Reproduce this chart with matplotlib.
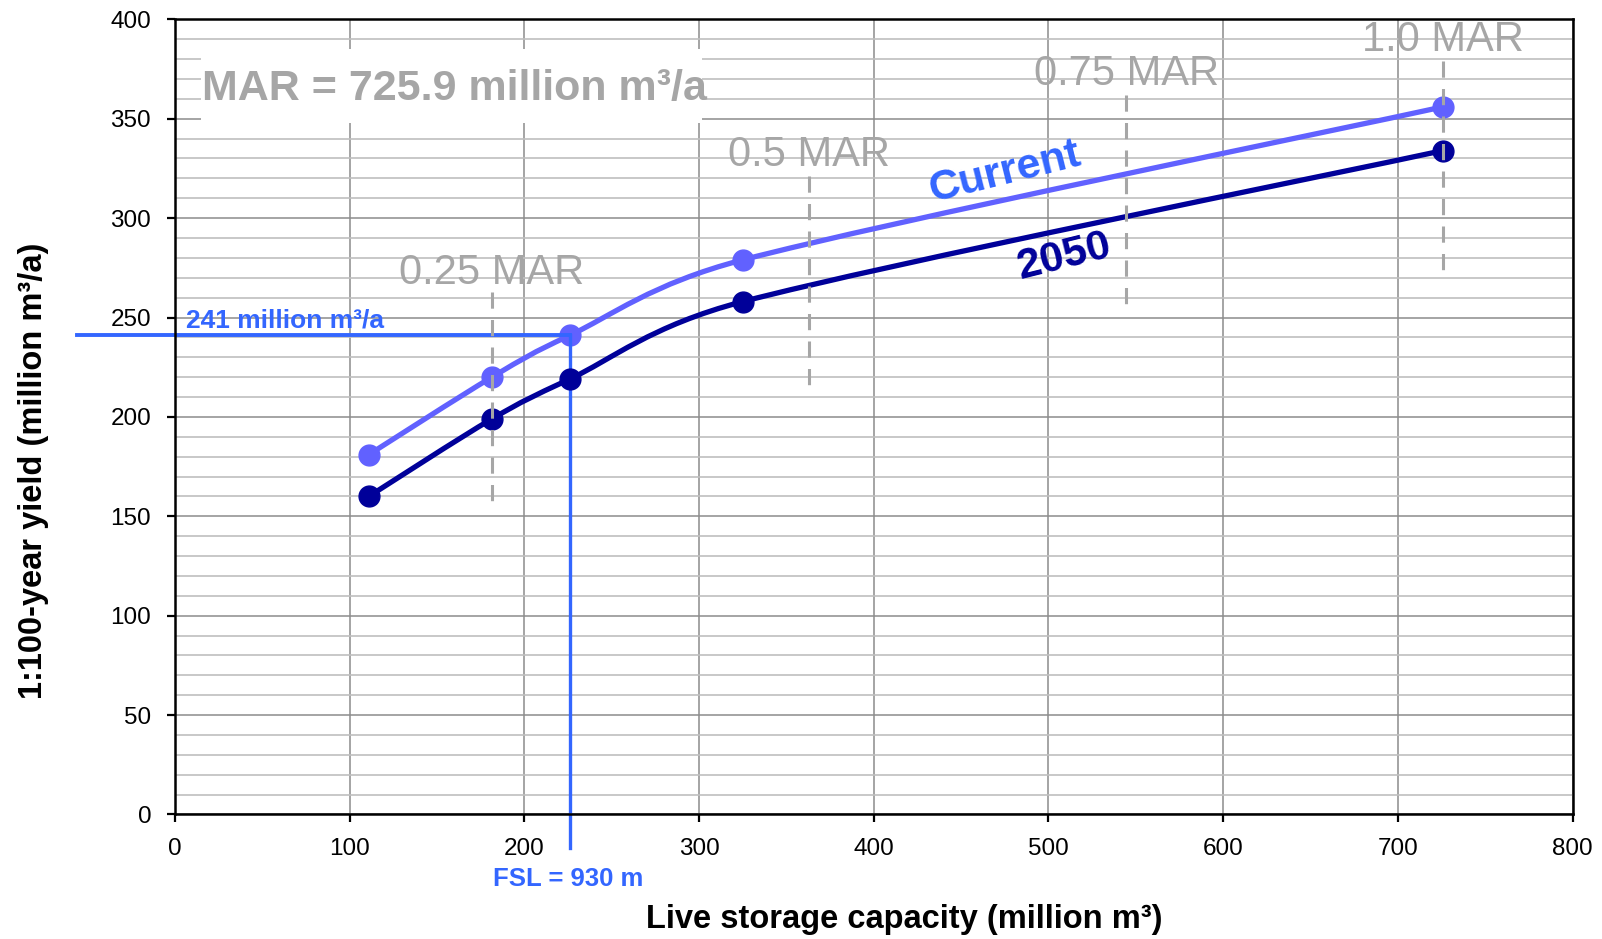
import numpy as np
import matplotlib.pyplot as plt
from matplotlib.path import Path
from matplotlib.patches import PathPatch, Rectangle
from matplotlib.ticker import MultipleLocator

plt.rcParams['font.family'] = ['Liberation Sans', 'DejaVu Sans']

# =========================
# data

storage = [111, 181.5, 226, 325, 725.9]          # live storage (million m3)
yield_current = [181, 220, 241, 279, 356]        # 1:100-year yield, current
yield_2050 = [160, 199, 219, 258, 334]           # 1:100-year yield, 2050

mar = 725.9
mar_fractions = [0.25, 0.5, 0.75, 1.0]
mar_labels = ["0.25 MAR", "0.5 MAR", "0.75 MAR", "1.0 MAR"]
mar_line_top = [263, 321, 362, 379]
mar_line_bottom = [157, 215, 257, 273]
mar_label_y = [267, 326, 367, 384]

fsl_storage = 226
fsl_yield = 241

xticks = np.arange(0, 801, 100)
yticks = np.arange(0, 401, 50)

# colours
c_current = '#6161ff'
c_2050 = '#000099'
c_note = '#3366ff'
c_gray = '#a6a6a6'


def smooth_path(ax, x, y):
    # Excel-like smoothed line: cubic Bezier segments, Catmull-Rom tangents
    # (screen space), control arms limited to half the segment length
    pts = ax.transData.transform(np.column_stack([x, y]).astype(float))
    n = len(pts)
    pad = np.vstack([pts[0], pts, pts[-1]])
    tang = (pad[2:] - pad[:-2]) / 6
    seg = np.hypot(*np.diff(pts, axis=0).T)

    def arm(t, limit):
        ln = np.hypot(*t)
        return t if ln <= limit else t * limit / ln

    verts = [pts[0]]
    codes = [Path.MOVETO]
    for i in range(n - 1):
        c1 = pts[i] + arm(tang[i], 0.5 * seg[i])
        c2 = pts[i + 1] - arm(tang[i + 1], 0.5 * seg[i])
        verts += [c1, c2, pts[i + 1]]
        codes += [Path.CURVE4] * 3
    verts = ax.transData.inverted().transform(np.array(verts))
    return Path(verts, codes)


fig = plt.figure(figsize=(16.02, 9.39), dpi=100)
ax = fig.add_axes([0.1091, 0.1326, 0.9817 - 0.1091, 0.9794 - 0.1326])

ax.set_xlim(0, 800)
ax.set_ylim(0, 400)
ax.set_xticks(xticks)
ax.set_yticks(yticks)
ax.yaxis.set_minor_locator(MultipleLocator(10))

ax.grid(which='minor', axis='y', color='#bfbfbf', lw=1.2, zorder=0)
ax.grid(which='major', axis='both', color='#8c8c8c', lw=1.1, zorder=0)
ax.set_axisbelow(True)

for s in ax.spines.values():
    s.set_color('black')
    s.set_linewidth(1.8)
    s.set_zorder(10)
ax.tick_params(which='major', direction='out', length=6, width=1.6,
               labelsize=17.5, pad=11)
ax.tick_params(which='minor', length=0)

# white box behind the MAR note
ax.add_patch(Rectangle((15, 348), 287, 37, facecolor='white',
                       edgecolor='none', zorder=1))

# curves
ax.add_patch(PathPatch(smooth_path(ax, storage, yield_current), facecolor='none',
                       edgecolor=c_current, lw=3.8, zorder=3, capstyle='round'))
ax.plot(storage, yield_current, ls='none', marker='o', ms=15,
        color=c_current, zorder=3)

# FSL reference lines
ax.plot([-56, fsl_storage], [fsl_yield, fsl_yield], color=c_note, lw=2.8,
        clip_on=False, zorder=4)
ax.plot([fsl_storage, fsl_storage], [fsl_yield, -17], color=c_note, lw=2.4,
        clip_on=False, zorder=4)

ax.add_patch(PathPatch(smooth_path(ax, storage, yield_2050), facecolor='none',
                       edgecolor=c_2050, lw=3.8, zorder=5, capstyle='round'))
ax.plot(storage, yield_2050, ls='none', marker='o', ms=15,
        color=c_2050, zorder=5)

# MAR dashed markers
for f, lab, top, bot, ly in zip(mar_fractions, mar_labels, mar_line_top,
                                mar_line_bottom, mar_label_y):
    ax.plot([f * mar, f * mar], [top, bot], color=c_gray, lw=2.2,
            dashes=(5.3, 3.7), zorder=6)
    ax.text(f * mar, ly, lab, color=c_gray, fontsize=30, ha='center',
            va='baseline', zorder=7)

ax.text(15.6, 359.4, "MAR = 725.9 million m³/a", color=c_gray, fontsize=31,
        fontweight='bold', ha='left', va='baseline', zorder=7)

ax.text(475, 323, "Current", color=c_note, fontsize=31, fontweight='bold',
        rotation=14, rotation_mode='anchor', ha='center', va='center', zorder=7)
ax.text(509, 280.6, "2050", color=c_2050, fontsize=31, fontweight='bold',
        rotation=14, rotation_mode='anchor', ha='center', va='center', zorder=7)

ax.text(6.5, 245, "241 million m³/a", color=c_note, fontsize=19,
        fontweight='bold', ha='left', va='baseline', zorder=7)
ax.text(182, -36, "FSL = 930 m", color=c_note, fontsize=18.5,
        fontweight='bold', ha='left', va='baseline', clip_on=False, zorder=7)

fig.text(0.5643, 0.0117, "Live storage capacity (million m³)", fontsize=23.5,
         fontweight='bold', ha='center', va='baseline')
fig.text(0.021, 0.4984, "1:100-year yield (million m³/a)", fontsize=23.5,
         fontweight='bold', rotation=90, ha='center', va='center')

fig.savefig('out.png', dpi=100)
